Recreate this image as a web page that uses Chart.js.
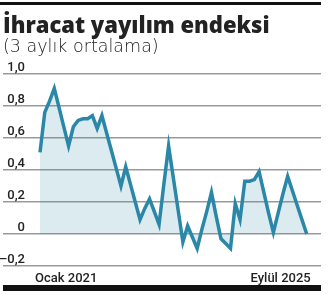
<!doctype html>
<html lang="tr">
<head>
<meta charset="utf-8">
<title>İhracat yayılım endeksi</title>
<script src="https://cdn.jsdelivr.net/npm/chart.js"></script>
<style>
  body { margin: 0; background: #fff; }
  #wrap { position: relative; width: 329px; height: 294px; overflow: hidden; }
  canvas { position: absolute; left: 0; top: 0; }
  h1 { position: absolute; left: 3px; top: 9px; margin: 0; font: 800 22px 'Open Sans', sans-serif; color: #222; white-space: nowrap; z-index: 2; }
  #sub { position: absolute; left: 3px; top: 36px; font: 200 17.5px 'DejaVu Sans', sans-serif; color: #222; white-space: nowrap; z-index: 2; }
</style>
</head>
<body>
<div id="wrap">
  <canvas id="chart" width="329" height="294"></canvas>
  <h1>İhracat yayılım endeksi</h1>
  <div id="sub">(3 aylık ortalama)</div>
</div>
<script>
// months Jan 2021 .. Sep 2025
const monthNames = ['Ocak','Şubat','Mart','Nisan','Mayıs','Haziran','Temmuz','Ağustos','Eylül','Ekim','Kasım','Aralık'];
const months = [];
for (let yr = 2021; yr <= 2025; yr++) {
  for (let m = 0; m < 12; m++) {
    if (yr === 2025 && m > 8) break;
    months.push(monthNames[m] + ' ' + yr);
  }
}

// index values
const index = [
  0.51, 0.76, 0.83, 0.91, 0.79, 0.67, 0.55, 0.67, 0.71, 0.72, 0.72, 0.74,
  0.66, 0.74, 0.63, 0.52, 0.41, 0.30, 0.42, 0.31, 0.20, 0.09, 0.16, 0.22,
  0.14, 0.06, 0.31, 0.55, 0.35, 0.15, -0.05, 0.05, -0.02, -0.09, 0.03, 0.14,
  0.26, 0.11, -0.03, -0.06, -0.09, 0.19, 0.09, 0.33, 0.33, 0.34, 0.39, 0.26,
  0.13, 0.01, 0.13, 0.25, 0.36, 0.27, 0.18, 0.09, 0.00
];

const yTicks = [-0.2, 0, 0.2, 0.4, 0.6, 0.8, 1.0];
const yTickLabels = ['–0,2', '0', '0,2', '0,4', '0,6', '0,8', '1,0'];
const xTickLabels = ['Ocak 2021', 'Eylül 2025'];

const textPlugin = {
  id: 'axisText',
  afterDraw(chart) {
    const { ctx, chartArea, scales: { x, y } } = chart;
    ctx.save();
    // black rules above the title and under the axis
    ctx.fillStyle = '#111111';
    ctx.fillRect(0, 2, chartArea.right, 3);
    ctx.fillRect(chartArea.left, 285, chartArea.right - chartArea.left, 6);

    ctx.fillStyle = '#222';
    ctx.font = '500 13px Roboto, sans-serif';
    ctx.textBaseline = 'alphabetic';
    ctx.textAlign = 'right';
    yTicks.forEach((v, i) => {
      ctx.fillText(yTickLabels[i], chartArea.left + 22, y.getPixelForValue(v) - 3);
    });
    const base = chartArea.bottom + 16;
    ctx.textAlign = 'left';
    ctx.fillText(xTickLabels[0], x.getPixelForValue(0) - 5, base);
    ctx.textAlign = 'right';
    ctx.fillText(xTickLabels[1], x.getPixelForValue(index.length - 1) + 4, base);
    ctx.restore();
  }
};

new Chart(document.getElementById('chart'), {
  type: 'line',
  data: {
    datasets: [{
      data: index.map((v, i) => ({ x: i, y: v })),
      borderColor: '#2a87a8',
      backgroundColor: 'rgba(42,135,168,0.17)',
      borderWidth: 3.5,
      pointRadius: 0,
      tension: 0,
      fill: 'origin'
    }]
  },
  options: {
    responsive: false,
    animation: false,
    layout: { padding: { top: 74, left: 3, right: 8, bottom: 28 } },
    plugins: { legend: { display: false }, tooltip: { enabled: false } },
    scales: {
      x: {
        type: 'linear', display: false,
        min: -7.77, max: 59.0
      },
      y: {
        min: -0.2, max: 1.0,
        afterBuildTicks: s => { s.ticks = yTicks.map(v => ({ value: v })); },
        afterFit: s => { s.width = 0; },
        ticks: { display: false },
        border: { display: false },
        grid: { color: '#9a9a9a', lineWidth: 1.5, drawTicks: false }
      }
    }
  },
  plugins: [textPlugin]
});
</script>
</body>
</html>
